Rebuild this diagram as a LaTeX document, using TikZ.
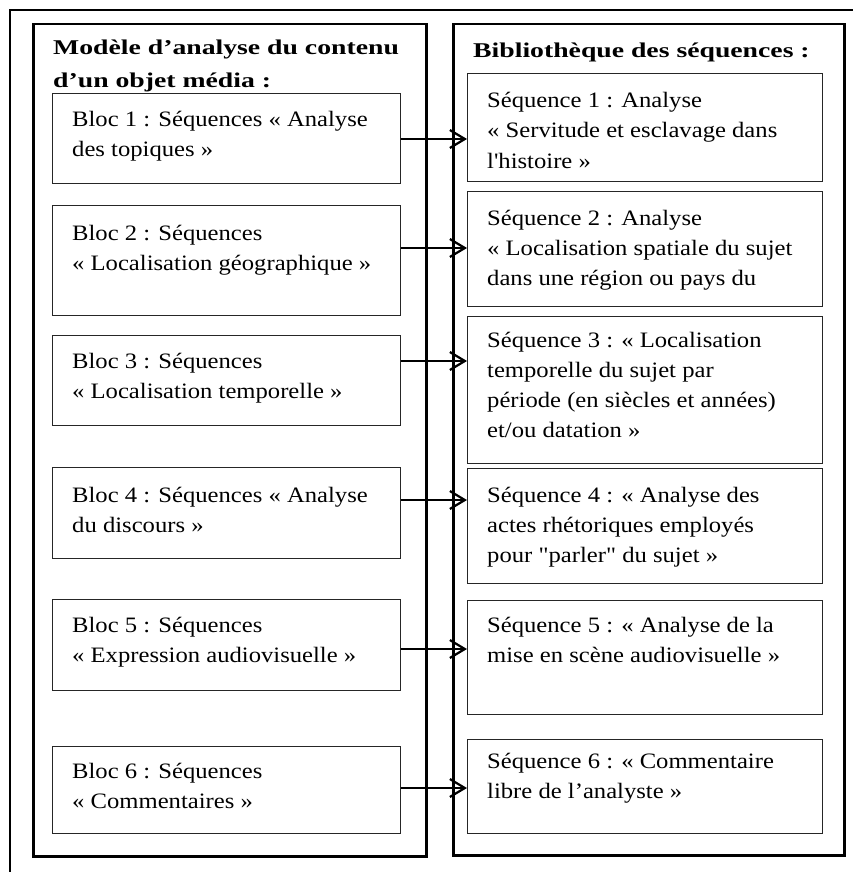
\documentclass[tikz,border=0pt]{standalone}
\usepackage{fontspec}
\setmainfont{Liberation Serif}[FakeStretch=1.12]
\newfontfamily\bodyfont{Liberation Serif}[FakeStretch=1.12]
\newfontfamily\titlefont{Liberation Serif}[FakeStretch=1.32]
\usetikzlibrary{arrows.meta}
\tikzset{
  panel/.style={draw=black, line width=2.5pt},
  frame/.style={draw=black, line width=2.5pt},
  box/.style={draw=black!85, line width=1.4pt, rectangle, inner sep=0pt, anchor=north west},
  txt/.style={anchor=base west, inner sep=0pt, font=\bodyfont\fontsize{22}{30}\selectfont},
  ttl/.style={anchor=base west, inner sep=0pt, font=\titlefont\bfseries\fontsize{21}{33}\selectfont},
  conn/.style={draw=black, line width=2.2pt, -{Straight Barb[length=15pt,width=18pt,line width=2.2pt]}}
}
\newcommand{\boxtext}[1]{\parbox[t]{330pt}{\raggedright #1}}
\begin{document}
\begin{tikzpicture}[x=1pt,y=-1pt]
\useasboundingbox (0,0) rectangle (853,872);
% outer frame (cropped)
\draw[frame] (10,872) -- (10,10) -- (853,10);
% panels
\node[panel, rectangle, inner sep=0pt, anchor=north west, minimum width=393pt, minimum height=832pt] (lp) at (32,23) {};
\node[panel, rectangle, inner sep=0pt, anchor=north west, minimum width=391pt, minimum height=831pt] (rp) at (452,23) {};
% titles
\node[ttl] (tl) at (53,55) {\parbox[t]{380pt}{\raggedright Modèle d’analyse du contenu\\d’un objet média :}};
\node[ttl] (tr) at (473,58) {Bibliothèque des séquences :};
% left boxes
\node[box, minimum width=348pt, minimum height=90pt] (b1) at (52,93) {};
\node[box, minimum width=348pt, minimum height=110pt] (b2) at (52,205) {};
\node[box, minimum width=348pt, minimum height=90pt] (b3) at (52,335) {};
\node[box, minimum width=348pt, minimum height=91pt] (b4) at (52,467) {};
\node[box, minimum width=348pt, minimum height=91pt] (b5) at (52,599) {};
\node[box, minimum width=348pt, minimum height=87pt] (b6) at (52,746) {};
% right boxes
\node[box, minimum width=355pt, minimum height=108pt] (s1) at (467,73) {};
\node[box, minimum width=355pt, minimum height=115pt] (s2) at (467,191) {};
\node[box, minimum width=355pt, minimum height=147pt] (s3) at (467,316) {};
\node[box, minimum width=355pt, minimum height=115pt] (s4) at (467,468) {};
\node[box, minimum width=355pt, minimum height=114pt] (s5) at (467,600) {};
\node[box, minimum width=355pt, minimum height=94pt] (s6) at (467,739) {};
% left texts
\node[txt] (tb1) at (72,127) {\boxtext{Bloc 1 : Séquences « Analyse\\des topiques »}};
\node[txt] (tb2) at (72,240) {\boxtext{Bloc 2 : Séquences\\« Localisation géographique »}};
\node[txt] (tb3) at (72,368) {\boxtext{Bloc 3 : Séquences\\« Localisation temporelle »}};
\node[txt] (tb4) at (72,502) {\boxtext{Bloc 4 : Séquences « Analyse\\du discours »}};
\node[txt] (tb5) at (72,632) {\boxtext{Bloc 5 : Séquences\\« Expression audiovisuelle »}};
\node[txt] (tb6) at (72,778) {\boxtext{Bloc 6 : Séquences\\« Commentaires »}};
% right texts
\node[txt] (ts1) at (487,108) {\boxtext{Séquence 1 : Analyse\\« Servitude et esclavage dans\\l'histoire »}};
\node[txt] (ts2) at (487,225) {\boxtext{Séquence 2 : Analyse\\« Localisation spatiale du sujet\\dans une région ou pays du}};
\node[txt] (ts3) at (487,347) {\boxtext{Séquence 3 : « Localisation\\temporelle du sujet par\\période (en siècles et années)\\et/ou datation »}};
\node[txt] (ts4) at (487,502) {\boxtext{Séquence 4 : « Analyse des\\actes rhétoriques employés\\pour "parler" du sujet »}};
\node[txt] (ts5) at (487,632) {\boxtext{Séquence 5 : « Analyse de la\\mise en scène audiovisuelle »}};
\node[txt] (ts6) at (487,768) {\boxtext{Séquence 6 : « Commentaire\\libre de l’analyste »}};
% connectors
\draw[conn] (b1.north east |- 0,139) -- (s1.north west |- 0,139);
\draw[conn] (b2.north east |- 0,248) -- (s2.north west |- 0,248);
\draw[conn] (b3.north east |- 0,361) -- (s3.north west |- 0,361);
\draw[conn] (b4.north east |- 0,500) -- (s4.north west |- 0,500);
\draw[conn] (b5.north east |- 0,649) -- (s5.north west |- 0,649);
\draw[conn] (b6.north east |- 0,788) -- (s6.north west |- 0,788);
\end{tikzpicture}
\end{document}
